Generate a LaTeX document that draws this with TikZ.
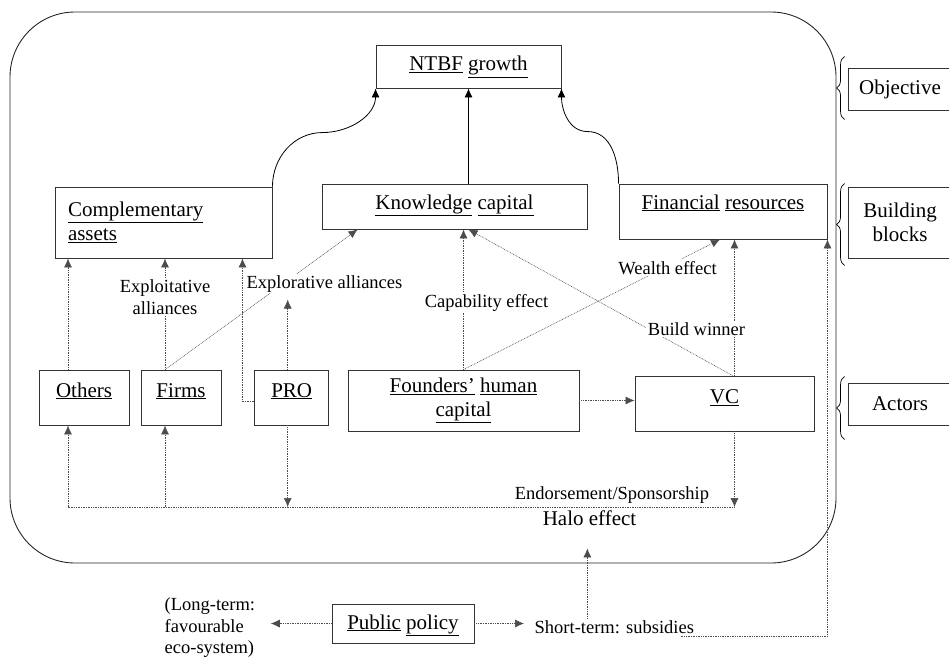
\documentclass[tikz,border=0pt]{standalone}
\usepackage{fontspec}
\setmainfont{Liberation Serif}
\usetikzlibrary{arrows.meta}
\usetikzlibrary{decorations.pathreplacing}
\usetikzlibrary{calc}
\tikzset{> = {Latex[length=9pt,width=8pt]}}
\tikzset{blk/.style={draw=black!80, line width=0.9pt, inner sep=0pt, align=center, font=\fontsize{21}{24}\selectfont},
	lbl/.style={fill=white, inner sep=1.5pt, align=center, font=\fontsize{18.5}{22}\selectfont},
	txt/.style={inner sep=1.5pt, align=left, font=\fontsize{18.5}{21.5}\selectfont},
	flow/.style={draw=black!70, line width=0.6pt, dash pattern=on 0.8pt off 0.9pt},
	brc/.style={decorate, decoration={brace, amplitude=8pt}, line width=0.7pt}}

\begin{document}
\begin{tikzpicture}[x=1pt, y=-1pt]
		\useasboundingbox (0,0) rectangle (949,658);
		\clip (0,0) rectangle (949,658);
		% frame round the actors and blocks
		\node[draw=black!85, line width=0.9pt, rounded corners=65pt, minimum width=826pt, minimum height=551pt] (frame) at (423,287.5) {};
		% objective and building blocks
		\node[blk, minimum width=185pt, text height=26pt, text depth=17pt] (ntbf) at (468.5,66.5) {\underline{NTBF} \underline{growth}};
		\node[blk, text width=191pt, inner xsep=13pt, align=left, minimum height=71pt] (comp) at (163.5,222.5) {\underline{Complementary}\\\underline{assets}};
		\node[blk, minimum width=265pt, text height=25pt, text depth=20pt] (know) at (454.5,206.5) {\underline{Knowledge} \underline{capital}};
		\node[blk, minimum width=208pt, text height=25pt, text depth=30pt] (fin) at (723,211.5) {\underline{Financial} \underline{resources}};
		% actors
		\node[blk, minimum width=90pt, text height=27pt, text depth=28pt] (others) at (84,397.5) {\underline{Others}};
		\node[blk, minimum width=80pt, text height=27pt, text depth=28pt] (firms) at (181,397.5) {\underline{Firms}};
		\node[blk, minimum width=74pt, text height=27pt, text depth=28pt] (pro) at (291.7,397.5) {\underline{PRO}};
		\node[blk, minimum width=231pt, minimum height=61pt] (found) at (463.5,400.5) {\underline{Founders'} \underline{human}\\\underline{capital}};
		\node[blk, minimum width=179pt, text height=27pt, text depth=28pt] (vc) at (724.5,403.5) {\underline{VC}};
		\node[blk, minimum width=142pt, text height=25pt, text depth=14pt] (policy) at (403,623.5) {\underline{Public} \underline{policy}};
		% levels on the right
		\node[blk, minimum width=104pt, text height=27pt, text depth=15pt] (obj) at (900,89) {Objective};
		\node[blk, minimum width=104pt, minimum height=71pt] (blocks) at (900,222.5) {Building\\blocks};
		\node[blk, minimum width=104pt, text height=27pt, text depth=15pt] (actors) at (900,404) {Actors};
		\draw[brc] ($(obj.south west)+(-3,9)$)--($(obj.north west)+(-3,-11)$);
		\draw[brc] ($(blocks.south west)+(-3,7)$)--($(blocks.north west)+(-3,-3)$);
		\draw[brc] ($(actors.south west)+(-3,14)$)--($(actors.north west)+(-3,-6)$);
		% blocks to growth
		\draw[line width=0.8pt,->] (comp.north east) to[out=90,in=180] ++(50,-54) to[out=0,in=-90] (ntbf.south west);
		\draw[line width=0.8pt,->] (know.north -| ntbf.south) -- (ntbf.south);
		\draw[line width=0.8pt,->] (fin.north west) to[out=90,in=0] ++(-31,-52) to[out=180,in=-90] (ntbf.south east);
		% actors to blocks
		\draw[flow,->] ([xshift=-16]others.north)--([xshift=-16]others.north |- comp.south);
		\draw[flow,->] ([xshift=-16]firms.north)--([xshift=-16]firms.north |- comp.south);
		\draw[flow,->] ([yshift=-4]pro.west)-|([xshift=-30]comp.south east);
		\draw[flow,->] ([xshift=-16]firms.north)--([xshift=36]know.south west);
		\draw[flow,->] (found.north)--(found.north |- know.south);
		\draw[flow,->] (found.north)--([xshift=-3]fin.south);
		\draw[flow,->] ([xshift=8]vc.north)--([xshift=14]know.south);
		\draw[flow,->] ([xshift=10]vc.north)--([xshift=10]vc.north |- fin.south);
		\draw[flow,->] (found.east)--(found.east -| vc.west);
		\node[lbl] (expa) at (165,297) {Exploitative\\alliances};
		\node[lbl, anchor=base] (expl) at (324.5,288) {Explorative alliances};
		\node[lbl, anchor=base] (capa) at (486.5,307) {Capability effect};
		\node[lbl, anchor=base] (wealth) at (667.5,274) {Wealth effect};
		\node[lbl, anchor=base] (winner) at (696.5,335) {Build winner};
		\draw[flow,->] ([xshift=-4]pro.north)--++(0,-70);
		% halo effect
		\coordinate (halo) at (0,507);
		\draw[flow,->] ([xshift=10]vc.south)--([xshift=10]vc.south |- halo);
		\draw[flow,->] ([xshift=10]vc.south |- halo)-|([xshift=-16]others.south);
		\draw[flow,->] ([xshift=-16]firms.south |- halo)--([xshift=-16]firms.south);
		\draw[flow,->] ([xshift=-4]pro.south)--([xshift=-4]pro.south |- halo);
		\node[txt, anchor=base] (endorse) at (612,499) {Endorsement/Sponsorship};
		\node[txt, anchor=base, font=\fontsize{21}{24}\selectfont] (haloeff) at (589.5,525) {Halo effect};
		% public policy
		\node[txt, anchor=west] (longt) at (163,628) {(Long-term:\\favourable\\eco-system)};
		\node[txt, anchor=base west] (shortt) at (533,633) {Short-term: subsidies};
		\draw[flow,->, shorten >=14pt] (policy.west)--(policy.west -| longt.east);
		\draw[flow,->, shorten >=9pt] (policy.east)--(policy.east -| shortt.west);
		\draw[flow,->] ([xshift=-27]shortt.north)--++(0,-70);
		\draw[flow,->] ([xshift=-15,yshift=-3]shortt.base east)-|(fin.south east);
		\end{tikzpicture}
\end{document}
